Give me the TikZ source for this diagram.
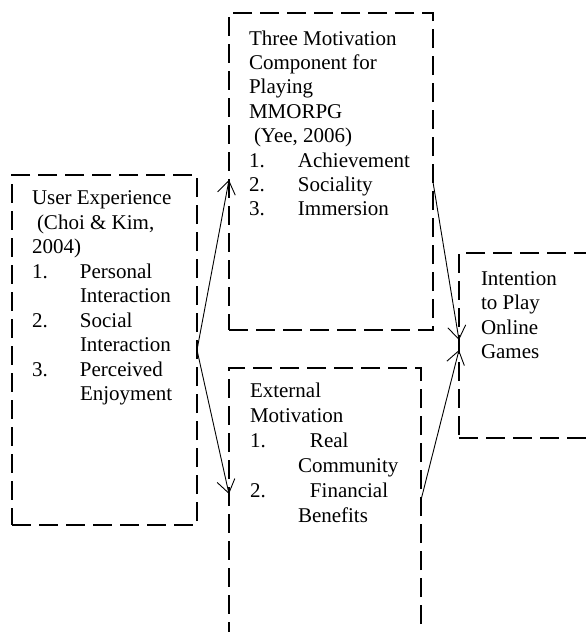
\documentclass[tikz,border=0pt]{standalone}
\usepackage{fontspec}
\setmainfont{Liberation Serif}
\usetikzlibrary{arrows.meta}
\tikzset{
  box/.style={draw, line width=2.5pt, dash pattern=on 19pt off 8pt, rectangle, inner sep=0pt, outer sep=0pt, anchor=north west},
  txt/.style={anchor=base west, inner sep=0pt, outer sep=0pt, font=\fontsize{21}{24.5}\selectfont},
  arr/.style={line width=0.9pt, -{Straight Barb[length=13pt,width=18pt,line width=0.9pt]}}
}
\newcommand{\numit}[2]{\makebox[#1][l]{#2}}
\begin{document}
\begin{tikzpicture}[x=1pt,y=-1pt]
\useasboundingbox (0,0) rectangle (586,632);
% boxes
\node[box, minimum width=185pt, minimum height=350pt] (b1) at (12,175) {};
\node[box, minimum width=204pt, minimum height=317pt] (b2) at (229,13) {};
\node[box, minimum width=192pt, minimum height=280pt] (b3) at (229,368) {};
\node[box, minimum width=150pt, minimum height=185pt] (b4) at (459,253) {};
% box 1 text
\node[txt] (t1a) at (32,204.5) {User Experience};
\node[txt] (t1b) at (37,229) {(Choi \& Kim,};
\node[txt] (t1c) at (32,253.5) {2004)};
\node[txt] (t1d) at (32,278) {\numit{48pt}{1.}Personal};
\node[txt] (t1e) at (80,302.5) {Interaction};
\node[txt] (t1f) at (32,327) {\numit{48pt}{2.}Social};
\node[txt] (t1g) at (80,351.5) {Interaction};
\node[txt] (t1h) at (32,376) {\numit{48pt}{3.}Perceived};
\node[txt] (t1i) at (80,400.5) {Enjoyment};
% box 2 text
\node[txt] (t2a) at (249,45) {Three Motivation};
\node[txt] (t2b) at (249,69.4) {Component for};
\node[txt] (t2c) at (249,93.8) {Playing};
\node[txt] (t2d) at (249,118.2) {MMORPG};
\node[txt] (t2e) at (254,142.6) {(Yee, 2006)};
\node[txt] (t2f) at (249,167) {\numit{49pt}{1.}Achievement};
\node[txt] (t2g) at (249,191.4) {\numit{49pt}{2.}Sociality};
\node[txt] (t2h) at (249,215.8) {\numit{49pt}{3.}Immersion};
% box 3 text
\node[txt] (t3a) at (250,397) {External};
\node[txt] (t3b) at (250,422) {Motivation};
\node[txt] (t3c) at (250,447) {\numit{60pt}{1.}Real};
\node[txt] (t3d) at (298,472) {Community};
\node[txt] (t3e) at (250,497) {\numit{60pt}{2.}Financial};
\node[txt] (t3f) at (298,522) {Benefits};
% box 4 text
\node[txt] (t4a) at (481,285) {Intention};
\node[txt] (t4b) at (481,309.5) {to Play};
\node[txt] (t4c) at (481,334) {Online};
\node[txt] (t4d) at (481,358.5) {Games};
% connector points
\coordinate (b1o) at (197,350);
\coordinate (b2i) at (229,180);
\coordinate (b3i) at (229,494);
\coordinate (b2o) at (433,182);
\coordinate (b3o) at (421,500);
\coordinate (b4i) at (459,340);
\coordinate (b4j) at (459,350);
\draw[arr] (b1o) -- (b2i);
\draw[arr] (b1o) -- (b3i);
\draw[arr] (b2o) -- (b4i);
\draw[arr] (b3o) -- (b4j);
\end{tikzpicture}
\end{document}
